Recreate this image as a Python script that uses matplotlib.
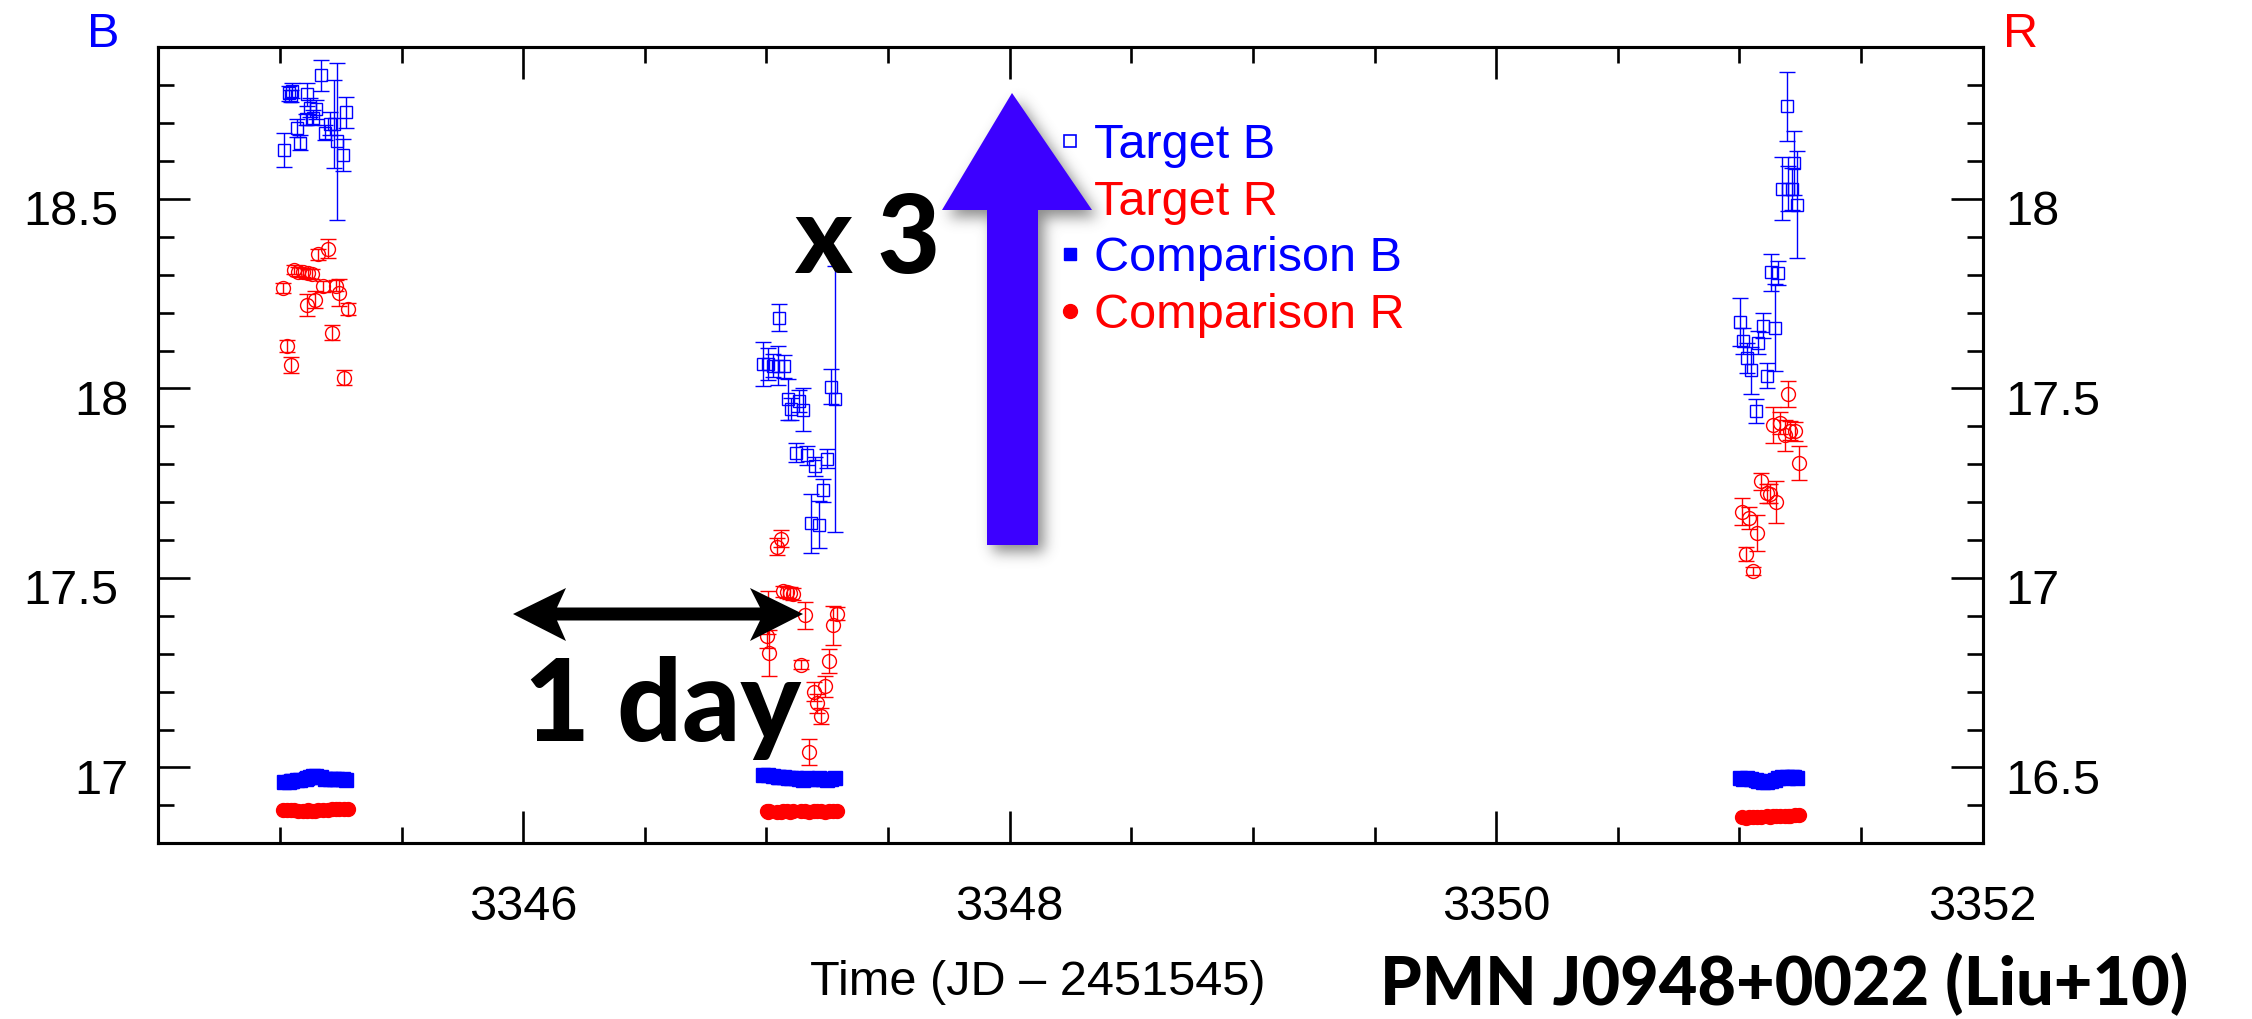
import matplotlib
matplotlib.use("Agg")
import matplotlib.pyplot as plt
import matplotlib.transforms as mtransforms
from matplotlib.lines import Line2D
from matplotlib.patches import Polygon
from matplotlib.path import Path
from matplotlib.ticker import MultipleLocator, FormatStrFormatter
import numpy as np

plt.rcParams['font.family'] = ['Liberation Sans', 'DejaVu Sans']

W, H, DPI = 2252, 1019, 100

# Target in B (time = JD - 2451545)
tb_time = [3345.018, 3345.037, 3345.045, 3345.051, 3345.069, 3345.083, 3345.107, 3345.110, 3345.124,
           3345.135, 3345.148, 3345.168, 3345.185, 3345.206, 3345.222, 3345.233, 3345.258, 3345.272,
           3346.987, 3347.008, 3347.028, 3347.049, 3347.052, 3347.072, 3347.087, 3347.101, 3347.122,
           3347.134, 3347.152, 3347.168, 3347.183, 3347.200, 3347.217, 3347.234, 3347.248, 3347.265,
           3347.282,
           3351.002, 3351.016, 3351.032, 3351.046, 3351.067, 3351.078, 3351.098, 3351.112, 3351.130,
           3351.146, 3351.157, 3351.174, 3351.194, 3351.198, 3351.215, 3351.224, 3351.238]
tb_mag = [18.629, 18.779, 18.772, 18.785, 18.688, 18.648, 18.710, 18.776, 18.741,
          18.714, 18.736, 18.826, 18.675, 18.698, 18.698, 18.652, 18.615, 18.728,
          18.065, 18.065, 18.060, 18.060, 18.187, 18.058, 17.972, 17.946, 17.831,
          17.967, 17.944, 17.824, 17.644, 17.795, 17.641, 17.731, 17.814, 18.005,
          17.972,
          18.175, 18.125, 18.081, 18.048, 17.941, 18.121, 18.165, 18.033, 18.306,
          18.160, 18.304, 18.527, 18.745, 18.527, 18.527, 18.595, 18.485]
tb_err = [0.044, 0.020, 0.015, 0.020, 0.024, 0.020, 0.015, 0.030, 0.025,
          0.020, 0.025, 0.041, 0.020, 0.030, 0.116, 0.207, 0.042, 0.040,
          0.058, 0.042, 0.030, 0.052, 0.035, 0.030, 0.054, 0.030, 0.024,
          0.030, 0.056, 0.025, 0.078, 0.025, 0.061, 0.030, 0.025, 0.046,
          0.350,
          0.063, 0.035, 0.040, 0.062, 0.031, 0.030, 0.033, 0.033, 0.050,
          0.115, 0.031, 0.083, 0.091, 0.060, 0.055, 0.084, 0.142]

# Target in R
tr_time = [3345.011, 3345.028, 3345.044, 3345.058, 3345.076, 3345.094, 3345.110, 3345.115, 3345.131,
           3345.144, 3345.158, 3345.178, 3345.199, 3345.213, 3345.229, 3345.244, 3345.265, 3345.281,
           3347.001, 3347.008, 3347.012, 3347.045, 3347.060, 3347.069, 3347.083, 3347.097, 3347.111,
           3347.142, 3347.159, 3347.175, 3347.197, 3347.209, 3347.223, 3347.241, 3347.257, 3347.275,
           3347.289,
           3351.009, 3351.027, 3351.041, 3351.057, 3351.074, 3351.089, 3351.112, 3351.126, 3351.137,
           3351.150, 3351.167, 3351.187, 3351.201, 3351.208, 3351.228, 3351.246]
tr_mag = [17.765, 17.613, 17.562, 17.813, 17.808, 17.806, 17.720, 17.804, 17.802,
          17.734, 17.854, 17.769, 17.869, 17.647, 17.771, 17.753, 17.528, 17.710,
          16.846, 16.908, 16.802, 17.083, 17.104, 16.965, 16.962, 16.960, 16.958,
          16.771, 16.901, 16.541, 16.700, 16.670, 16.636, 16.714, 16.780, 16.875,
          16.906,
          17.175, 17.063, 17.158, 17.019, 17.118, 17.255, 17.224, 17.222, 17.403,
          17.200, 17.409, 17.376, 17.485, 17.388, 17.387, 17.303]
tr_err = [0.012, 0.016, 0.022, 0.012, 0.012, 0.012, 0.028, 0.012, 0.014,
          0.022, 0.014, 0.014, 0.026, 0.020, 0.014, 0.035, 0.020, 0.016,
          0.030, 0.057, 0.061, 0.023, 0.023, 0.015, 0.015, 0.015, 0.015,
          0.012, 0.035, 0.034, 0.025, 0.025, 0.020, 0.027, 0.032, 0.051,
          0.017,
          0.035, 0.018, 0.030, 0.011, 0.047, 0.022, 0.025, 0.025, 0.047,
          0.055, 0.030, 0.040, 0.034, 0.025, 0.025, 0.045]

# comparison star, measured in the same frames
cb_mag = [16.962, 16.963, 16.964, 16.965, 16.966, 16.967, 16.970, 16.972, 16.976,
          16.978, 16.977, 16.974, 16.970, 16.969, 16.970, 16.969, 16.970, 16.968,
          16.981, 16.980, 16.978, 16.976, 16.975, 16.974, 16.972, 16.971, 16.972,
          16.970, 16.968, 16.971, 16.969, 16.970, 16.972, 16.969, 16.968, 16.970,
          16.971,
          16.971, 16.970, 16.972, 16.969, 16.966, 16.964, 16.962, 16.963, 16.965,
          16.968, 16.972, 16.975, 16.974, 16.973, 16.975, 16.974, 16.973]
cr_mag = [16.389, 16.388, 16.387, 16.388, 16.386, 16.385, 16.386, 16.387, 16.386,
          16.385, 16.387, 16.388, 16.389, 16.390, 16.391, 16.390, 16.391, 16.390,
          16.384, 16.383, 16.384, 16.382, 16.383, 16.384, 16.384, 16.383, 16.384,
          16.385, 16.384, 16.383, 16.384, 16.385, 16.384, 16.383, 16.384, 16.385,
          16.384,
          16.369, 16.368, 16.369, 16.370, 16.369, 16.370, 16.371, 16.370, 16.371,
          16.372, 16.371, 16.372, 16.373, 16.372, 16.374, 16.375]

b_ticks = [17, 17.5, 18, 18.5]
r_ticks = [16.5, 17, 17.5, 18]

FS = 35

fig = plt.figure(figsize=(W / DPI, H / DPI), dpi=DPI)
ax = fig.add_axes([0.07029, 0.17242, 0.81013, 0.78116])
ax2 = ax.twinx()

ax.set_xlim(3344.5, 3352)
ax.set_ylim(16.8, 18.9)
ax2.set_ylim(16.3, 18.4)

# B data on the left scale
ax.plot(tb_time, cb_mag, 's', color='blue', ms=10, zorder=2)
ax.errorbar(tb_time, tb_mag, yerr=tb_err, fmt='s', mfc='none', mec='blue', ecolor='blue',
            ms=9, mew=1.0, elinewidth=1.0, capsize=5.5, capthick=1.0, zorder=3)
# R data on the right scale
ax2.plot(tr_time, cr_mag, 'o', color='red', ms=10, zorder=2)
ax2.errorbar(tr_time, tr_mag, yerr=tr_err, fmt='o', mfc='none', mec='red', ecolor='red',
             ms=10, mew=1.0, elinewidth=1.0, capsize=5.5, capthick=1.0, zorder=3)

# ticks: ROOT style, pointing inwards
ax.xaxis.set_major_locator(MultipleLocator(2))
ax.xaxis.set_minor_locator(MultipleLocator(0.5))
ax.xaxis.set_major_formatter(FormatStrFormatter('%g'))
for a in (ax, ax2):
    a.yaxis.set_major_locator(MultipleLocator(0.5))
    a.yaxis.set_minor_locator(MultipleLocator(0.1))
    for s in a.spines.values():
        s.set_linewidth(2.2)
ax.tick_params(axis='both', which='both', direction='in', width=1.9)
ax.tick_params(axis='both', which='major', length=23)
ax.tick_params(axis='both', which='minor', length=11.5)
ax.tick_params(axis='x', which='both', top=True, bottom=True, labelsize=FS, pad=30)
ax.tick_params(axis='y', which='both', left=True, right=False, labelleft=False)
ax2.tick_params(axis='y', which='both', direction='in', width=1.9, right=True, left=False,
                labelright=False)
ax2.tick_params(axis='y', which='major', length=23)
ax2.tick_params(axis='y', which='minor', length=11.5)

# y tick labels written out so they sit a little under their ticks
left_tr = mtransforms.blended_transform_factory(ax.transAxes, ax.transData)
for v in b_ticks:
    dx = -21.1 if float(v).is_integer() else -29.0
    off = mtransforms.ScaledTranslation(dx / 72, -19.0 / 72, fig.dpi_scale_trans)
    ax.text(0, v, '%g' % v, transform=left_tr + off, ha='right', va='baseline', fontsize=FS)
right_tr = mtransforms.blended_transform_factory(ax2.transAxes, ax2.transData)
for v in r_ticks:
    off = mtransforms.ScaledTranslation(16.5 / 72, -19.0 / 72, fig.dpi_scale_trans)
    ax2.text(1, v, '%g' % v, transform=right_tr + off, ha='left', va='baseline', fontsize=FS)

ax.set_ylabel('B', color='blue', fontsize=FS, rotation=0, ha='center', va='baseline')
ax.yaxis.set_label_coords(-0.030, 1.0)
ax2.set_ylabel('R', color='red', fontsize=FS, rotation=0, ha='center', va='baseline')
ax2.yaxis.set_label_coords(1.021, 1.0)
ax.set_xlabel('Time (JD \u2013 2451545)', fontsize=FS, va='baseline')
ax.xaxis.set_label_coords(0.4822, -0.1906)

# overlay in pixel units for the annotations
ov = fig.add_axes([0, 0, 1, 1])
ov.set_zorder(10)
ov.axis('off')

handles = [Line2D([], [], ls='none', marker='s', ms=9, mfc='none', mec='blue', mew=1.2),
           Line2D([], [], ls='none', marker='o', ms=10, mfc='none', mec='red', mew=1.2),
           Line2D([], [], ls='none', marker='s', ms=9, mfc='blue', mec='blue'),
           Line2D([], [], ls='none', marker='o', ms=10, mfc='red', mec='red')]
labels = ['Target B', 'Target R', 'Comparison B', 'Comparison R']
ax2.legend(handles, labels, loc='upper left', bbox_to_anchor=(1057, 123), bbox_transform=ov.transData,
           frameon=False, fontsize=FS, labelcolor='markeredgecolor', handlelength=0.55,
           handletextpad=0.22, labelspacing=0.24, borderpad=0, borderaxespad=0)

ov.set_xlim(0, W)
ov.set_ylim(H, 0)

bold = dict(family=['Lato', 'DejaVu Sans'], fontweight='black', color='black')
ov.text(794, 273, 'x 3', fontsize=78, ha='left', va='baseline', **bold)
ov.text(524, 741, '1 day', fontsize=82, ha='left', va='baseline', **bold)
ov.text(1380, 1005, 'PMN J0948+0022 (Liu+10)', fontsize=48, ha='left', va='baseline', **bold)

# black double arrow spanning one day
ov.add_patch(Polygon([(513, 614), (566, 588), (557, 607.5), (760, 607.5), (750, 588), (803, 614),
                      (750, 641), (760, 620.5), (557, 620.5), (566, 641)],
                     closed=True, fc='black', ec='none', zorder=5))

# big blue arrow with a soft drop shadow
up = [(1012, 93), (1092, 210), (1038, 210), (1038, 545), (987, 545), (987, 210), (942, 210)]
x0, x1, y0, y1 = 880, 1160, 40, 610
gx, gy = np.meshgrid(np.arange(x0, x1) + 0.5, np.arange(y0, y1) + 0.5)
mask = Path(up).contains_points(np.c_[gx.ravel(), gy.ravel()]).reshape(gx.shape).astype(float)
sig = 7
k = np.exp(-0.5 * (np.arange(-3 * sig, 3 * sig + 1) / sig) ** 2)
k /= k.sum()
blur = np.apply_along_axis(lambda r: np.convolve(r, k, mode='same'), 1, mask)
blur = np.apply_along_axis(lambda c: np.convolve(c, k, mode='same'), 0, blur)
shadow = np.zeros(blur.shape + (4,))
shadow[..., :3] = 0.3
shadow[..., 3] = blur * 0.65
sx, sy = 6, 7
ov.imshow(shadow, extent=(x0 + sx, x1 + sx, y1 + sy, y0 + sy), interpolation='bilinear',
          aspect='auto', zorder=6)
ov.add_patch(Polygon(up, closed=True, fc='#3c00ff', ec='none', zorder=7))
ov.set_xlim(0, W)
ov.set_ylim(H, 0)

fig.savefig('out.png', dpi=DPI)
